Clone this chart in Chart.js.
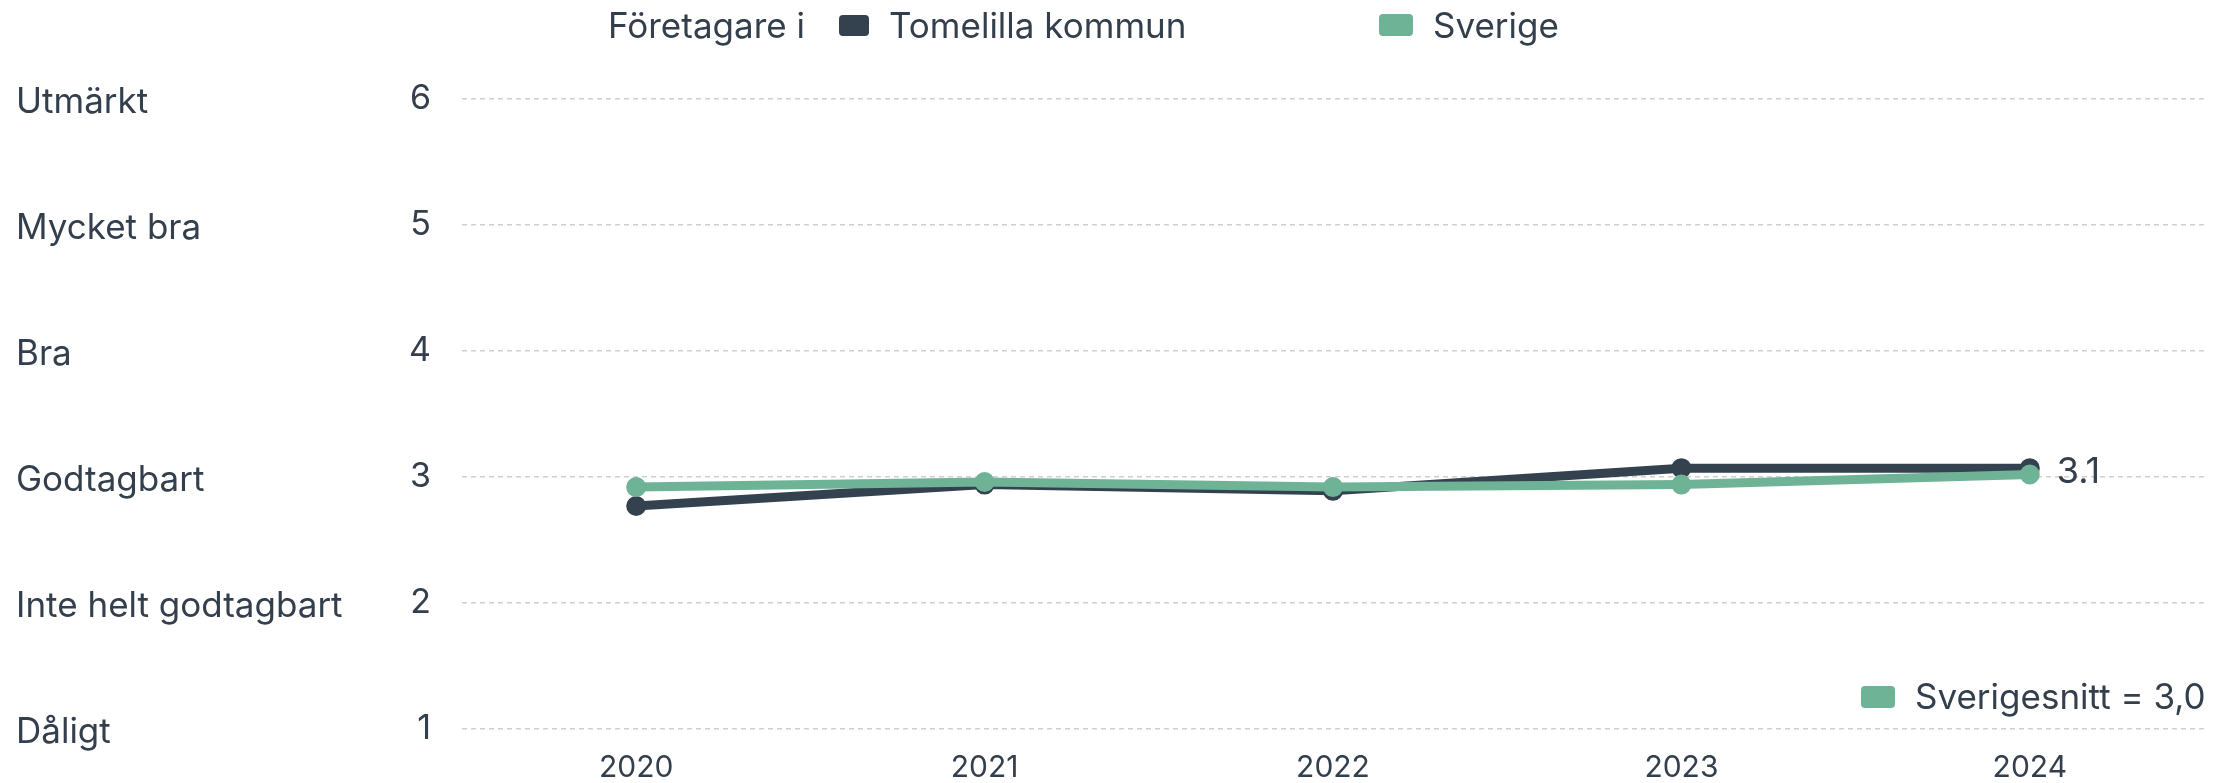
<!DOCTYPE html>
<html>
<head>
<meta charset="utf-8">
<script src="https://cdn.jsdelivr.net/npm/chart.js@4/dist/chart.umd.min.js"></script>
<style>
  html, body { margin: 0; padding: 0; background: #ffffff; }
  #wrap { position: relative; width: 2229px; height: 783px; }
</style>
</head>
<body>
<div id="wrap"><canvas id="c" width="2229" height="783"></canvas></div>
<script>
const years = ["2020", "2021", "2022", "2023", "2024"];
const tomelilla = [2.77, 2.94, 2.89, 3.07, 3.07];
const sverige = [2.92, 2.96, 2.92, 2.94, 3.02];
const ratingLabels = ["Dåligt", "Inte helt godtagbart", "Godtagbart", "Bra", "Mycket bra", "Utmärkt"];
const seriesNames = ["Tomelilla kommun", "Sverige"];
const legendTitle = "Företagare i";
const averageLabel = "Sverigesnitt = 3,0";

const DARK = "#34424f";
const GREEN = "#6fb397";
const TEXT = "#333f4c";
const FONT = "Inter, Lato, sans-serif";

function roundRect(ctx, x, y, w, h, r) {
  ctx.beginPath();
  ctx.moveTo(x + r, y);
  ctx.lineTo(x + w - r, y);
  ctx.quadraticCurveTo(x + w, y, x + w, y + r);
  ctx.lineTo(x + w, y + h - r);
  ctx.quadraticCurveTo(x + w, y + h, x + w - r, y + h);
  ctx.lineTo(x + r, y + h);
  ctx.quadraticCurveTo(x, y + h, x, y + h - r);
  ctx.lineTo(x, y + r);
  ctx.quadraticCurveTo(x, y, x + r, y);
  ctx.closePath();
}

const decor = {
  id: "decor",
  afterDraw(chart) {
    const ctx = chart.ctx;
    const ys = chart.scales.y;
    ctx.save();
    ctx.fillStyle = TEXT;
    ctx.textBaseline = "middle";
    ctx.textAlign = "left";
    // rating labels on the left
    ctx.font = "35px " + FONT;
    ratingLabels.forEach((lab, i) => {
      ctx.fillText(lab, 16, ys.getPixelForValue(i + 1) + 3);
    });
    // top legend
    ctx.font = "35px " + FONT;
    ctx.fillText(legendTitle, 608, 27);
    ctx.fillStyle = DARK;
    roundRect(ctx, 839, 15, 30, 21, 4); ctx.fill();
    ctx.fillStyle = TEXT;
    ctx.fillText(seriesNames[0], 889, 27);
    ctx.fillStyle = GREEN;
    roundRect(ctx, 1379, 14, 34, 22, 4); ctx.fill();
    ctx.fillStyle = TEXT;
    ctx.fillText(seriesNames[1], 1433, 27);
    // bottom-right average legend
    ctx.fillStyle = GREEN;
    roundRect(ctx, 1861, 686, 34, 22, 4); ctx.fill();
    ctx.fillStyle = TEXT;
    ctx.font = "35px " + FONT;
    ctx.fillText(averageLabel, 1915, 698);
    // value label for last Tomelilla point
    const meta = chart.getDatasetMeta(0);
    const last = meta.data[meta.data.length - 1];
    ctx.font = "36px " + FONT;
    ctx.fillText(tomelilla[tomelilla.length - 1].toFixed(1), last.x + 27, last.y + 4);
    ctx.restore();
  }
};

new Chart(document.getElementById("c"), {
  type: "line",
  data: {
    labels: years,
    datasets: [
      {
        label: seriesNames[0],
        data: tomelilla,
        borderColor: DARK,
        backgroundColor: DARK,
        pointBackgroundColor: DARK,
        pointBorderColor: DARK,
        borderWidth: 9,
        pointRadius: 9,
        pointBorderWidth: 2,
        tension: 0,
        order: 1
      },
      {
        label: seriesNames[1],
        data: sverige,
        borderColor: GREEN,
        backgroundColor: GREEN,
        pointBackgroundColor: GREEN,
        pointBorderColor: GREEN,
        borderWidth: 9,
        pointRadius: 9,
        pointBorderWidth: 2,
        tension: 0,
        order: 0
      }
    ]
  },
  options: {
    responsive: false,
    animation: false,
    devicePixelRatio: 1,
    layout: { padding: { top: 99, right: 25, bottom: 0, left: 0 } },
    plugins: {
      legend: { display: false },
      tooltip: { enabled: false }
    },
    scales: {
      x: {
        offset: true,
        grid: { display: false, drawTicks: false },
        border: { display: false },
        ticks: { color: TEXT, font: { family: FONT, size: 30 }, padding: 21, maxRotation: 0 },
        afterFit(s) { s.height = 54; }
      },
      y: {
        min: 1,
        max: 6,
        grid: { color: "#cfcfcf", lineWidth: 1.5, drawTicks: false },
        border: { display: false, dash: [5, 4] },
        ticks: { stepSize: 1, color: TEXT, font: { family: FONT, size: 34 }, padding: 31 },
        afterFit(s) { s.width = 462; }
      }
    }
  },
  plugins: [decor]
});
</script>
</body>
</html>
